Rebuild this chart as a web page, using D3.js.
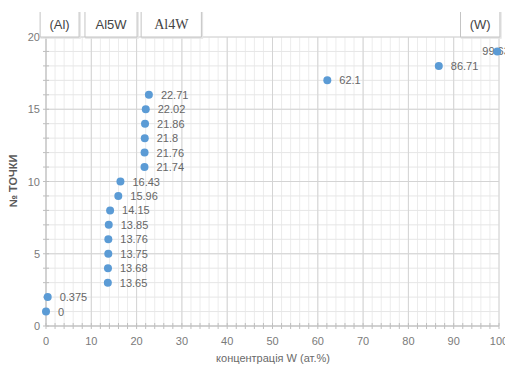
<!DOCTYPE html>
<html><head><meta charset="utf-8">
<script src="https://cdn.jsdelivr.net/npm/d3@7"></script>
<style>body{margin:0;background:#fff}svg{display:block}</style>
</head><body>
<script>
const wValues = [0, 0.375, 13.65, 13.68, 13.75, 13.76, 13.85, 14.15, 15.96, 16.43, 21.74, 21.76, 21.8, 21.86, 22.02, 22.71, 62.1, 86.71, 99.63];
const pointNo = [1, 2, 3, 4, 5, 6, 7, 8, 9, 10, 11, 12, 13, 14, 15, 16, 17, 18, 19];
const labels = ["0", "0.375", "13.65", "13.68", "13.75", "13.76", "13.85", "14.15", "15.96", "16.43", "21.74", "21.76", "21.8", "21.86", "22.02", "22.71", "62.1", "86.71", "99.63"];
const xTicks = [0, 10, 20, 30, 40, 50, 60, 70, 80, 90, 100];
const yTicks = [0, 5, 10, 15, 20];
const phaseNames = ["(Al)", "Al5W", "Al4W", "(W)"];
const phaseStart = [-1.3, 8.6, 21.0, 91.5];
const phaseEnd = [7.3, 20.1, 34.3, 100.2];

const W = 505, H = 367;
const svg = d3.select("body").append("svg").attr("width", W).attr("height", H);
const x = d3.scaleLinear().domain([0, 100]).range([46, 499]);
const y = d3.scaleLinear().domain([0, 20]).range([326, 37]);

// minor grid
const g = svg.append("g");
g.selectAll(".vminor").data(d3.range(0, 101, 2)).join("line")
  .attr("x1", d => x(d)).attr("x2", d => x(d)).attr("y1", y(0)).attr("y2", y(20))
  .attr("stroke", "#ececec").attr("stroke-width", 1);
g.selectAll(".hminor").data(d3.range(0, 21, 1)).join("line")
  .attr("x1", x(0)).attr("x2", x(100)).attr("y1", d => y(d)).attr("y2", d => y(d))
  .attr("stroke", "#e6e6e6").attr("stroke-width", 1);
g.selectAll(".vmajor").data(xTicks).join("line")
  .attr("x1", d => x(d)).attr("x2", d => x(d)).attr("y1", y(0)).attr("y2", y(20))
  .attr("stroke", "#d4d4d4").attr("stroke-width", 1);
g.selectAll(".hmajor").data(yTicks).join("line")
  .attr("x1", x(0)).attr("x2", x(100)).attr("y1", d => y(d)).attr("y2", d => y(d))
  .attr("stroke", "#d4d4d4").attr("stroke-width", 1);

// axes
const axisColor = "#bfbfbf";
svg.append("line").attr("x1", x(0)).attr("x2", x(100)).attr("y1", y(0)).attr("y2", y(0)).attr("stroke", axisColor);
svg.append("line").attr("x1", x(0)).attr("x2", x(0)).attr("y1", y(0)).attr("y2", y(20)).attr("stroke", axisColor);
svg.selectAll(".xt").data(d3.range(0, 101, 2)).join("line")
  .attr("x1", d => x(d)).attr("x2", d => x(d)).attr("y1", y(0) - 3).attr("y2", y(0) + 3).attr("stroke", axisColor);
svg.selectAll(".yt").data(d3.range(0, 21, 1)).join("line")
  .attr("x1", x(0) - 3).attr("x2", x(0) + 3).attr("y1", d => y(d)).attr("y2", d => y(d)).attr("stroke", axisColor);

const font = "'Liberation Sans', Arial, sans-serif";
svg.selectAll(".xl").data(xTicks).join("text")
  .attr("x", d => x(d)).attr("y", y(0) + 19).attr("text-anchor", "middle")
  .attr("font-family", font).attr("font-size", 11).attr("fill", "#7a7a7a").text(d => d);
svg.selectAll(".yl").data(yTicks).join("text")
  .attr("x", x(0) - 6).attr("y", d => y(d) + 4).attr("text-anchor", "end")
  .attr("font-family", font).attr("font-size", 11).attr("fill", "#7a7a7a").text(d => d);

svg.append("text").attr("x", 273).attr("y", 362).attr("text-anchor", "middle")
  .attr("font-family", font).attr("font-size", 11).attr("fill", "#6a6a6a").text("концентрація W (ат.%)");
svg.append("text").attr("transform", "translate(17,181) rotate(-90)").attr("text-anchor", "middle")
  .attr("font-family", font).attr("font-size", 11).attr("font-weight", "bold").attr("fill", "#595959").text("№ ТОЧКИ");

// phase boxes
const boxTop = 12, boxBottom = y(20);
phaseNames.forEach((name, i) => {
  const x0 = x(phaseStart[i]), x1 = x(phaseEnd[i]);
  svg.append("path").attr("d", `M${x0 + 1},${boxTop}V${boxBottom + 1}H${x1 + 1}V${boxTop}`)
    .attr("fill", "none").attr("stroke", "#e4e4e4").attr("stroke-width", 1.5);
  svg.append("path").attr("d", `M${x0},${boxTop}V${boxBottom}H${x1}V${boxTop}`)
    .attr("fill", "#fff").attr("stroke", "#c4c4c4").attr("stroke-width", 1);
  svg.append("text").attr("x", (x0 + x1) / 2).attr("y", 29).attr("text-anchor", "middle")
    .attr("font-family", name === "Al4W" ? "'Liberation Serif', 'Times New Roman', serif" : font)
    .attr("font-size", name === "Al4W" ? 14 : 13)
    .attr("fill", "#444").text(name);
});

// data labels
const data = wValues.map((v, i) => ({ v, n: pointNo[i], l: labels[i] }));
svg.selectAll(".dl").data(data).join("text")
  .attr("x", d => d.v > 99 ? x(d.v) - 15 : x(d.v) + 12)
  .attr("y", d => y(d.n) + 4)
  .attr("font-family", font).attr("font-size", 11).attr("fill", "#666").text(d => d.l);

// points
svg.selectAll(".pt").data(data).join("circle")
  .attr("cx", d => x(d.v)).attr("cy", d => y(d.n)).attr("r", 4)
  .attr("fill", "#5b9bd5");
</script>
</body></html>
